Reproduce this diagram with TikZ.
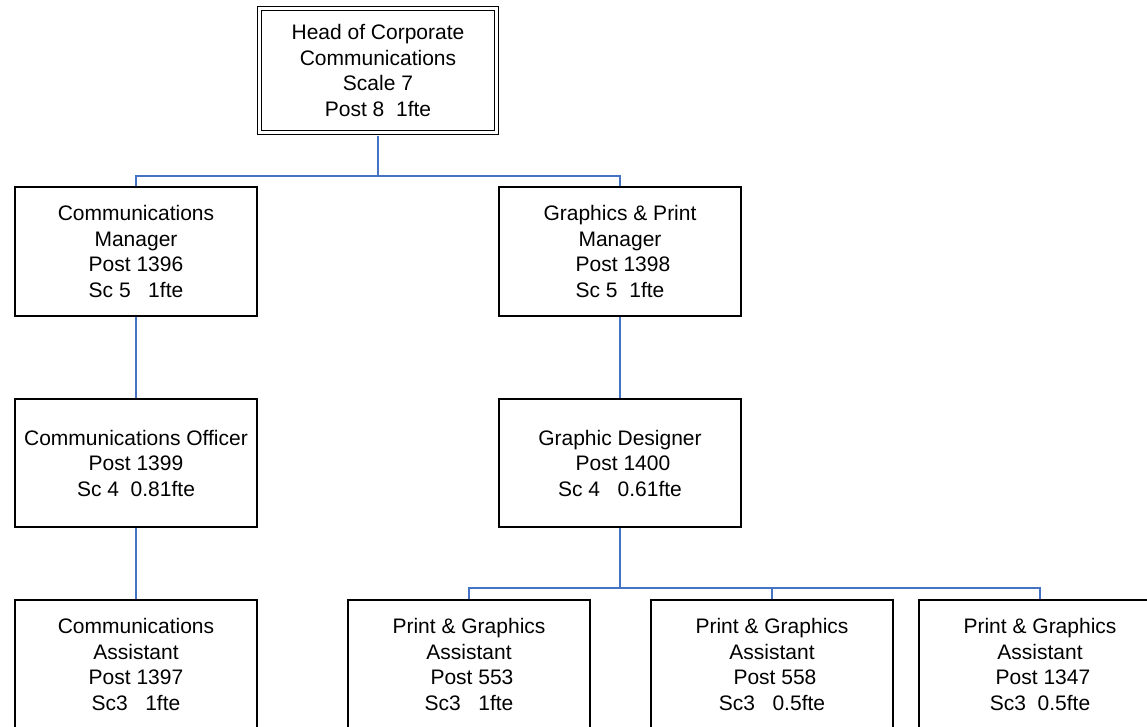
\documentclass[tikz,border=0pt]{standalone}
\usepackage{fontspec}
\setmainfont{Liberation Sans}
\newcommand{\indentsp}{\hspace*{0.28em}}
\begin{document}
\begin{tikzpicture}[x=1pt,y=-1pt,
  post/.style={draw=black, line width=1.4pt, fill=white, minimum width=242pt,
    minimum height=129pt, inner sep=0pt, align=center,
    font=\fontsize{21pt}{25.5pt}\selectfont},
  headpost/.style={post, double, double distance=3.4pt, line width=1.2pt,
    minimum width=237pt, minimum height=124pt, outer sep=3pt},
  conn/.style={draw={rgb,255:red,68;green,114;blue,196}, line width=1.4pt}]
\useasboundingbox (0,0) rectangle (1147,726);
\clip (0,0) rectangle (1147,726);

% posts
\node[headpost] (head) at (378,70.5) {Head of Corporate\\Communications\\Scale 7\\Post 8~~1fte};
\node[post] (cm) at (136,251.5) {Communications\\Manager\\Post 1396\\Sc 5~~~1fte};
\node[post] (gm) at (620,251.5) {Graphics \& Print\\Manager\\\indentsp Post 1398\\Sc 5~~1fte};
\node[post, minimum height=128pt] (co) at (136,463) {Communications Officer\\Post 1399\\Sc 4~~0.81fte};
\node[post, minimum height=128pt] (gd) at (620,463) {Graphic Designer\\\indentsp Post 1400\\Sc 4~~~0.61fte};
\node[post] (ca) at (136,664.5) {Communications\\Assistant\\Post 1397\\Sc3~~~1fte};
\node[post] (pa1) at (469,664.5) {Print \& Graphics\\Assistant\\\indentsp Post 553\\Sc3~~~1fte};
\node[post] (pa2) at (772,664.5) {Print \& Graphics\\Assistant\\\indentsp Post 558\\Sc3~~~0.5fte};
\node[post] (pa3) at (1040,664.5) {Print \& Graphics\\Assistant\\\indentsp Post 1347\\Sc3~~0.5fte};

% junctions of the reporting lines
\coordinate (j1) at (378,176);
\coordinate (j2) at (620,588);

% reporting lines
\draw[conn] (head.south) -- (j1);
\draw[conn] (j1) -| (cm.north);
\draw[conn] (j1) -| (gm.north);
\draw[conn] (cm.south) -- (co.north);
\draw[conn] (gm.south) -- (gd.north);
\draw[conn] (co.south) -- (ca.north);
\draw[conn] (gd.south) -- (j2);
\draw[conn] (j2) -| (pa1.north);
\draw[conn] (j2) -| (pa2.north);
\draw[conn] (j2) -| (pa3.north);
\end{tikzpicture}
\end{document}
